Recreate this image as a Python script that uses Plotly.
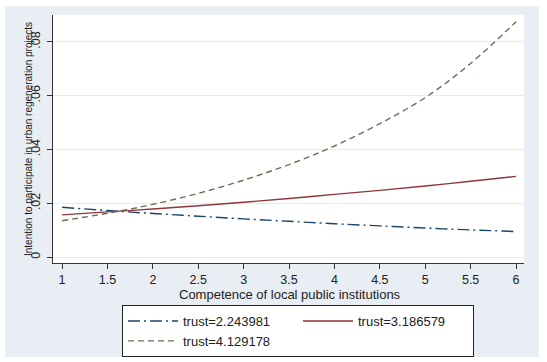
import plotly.graph_objects as go

competence = [1, 1.5, 2, 2.5, 3, 3.5, 4, 4.5, 5, 5.5, 6]
trust_low = [0.0185, 0.0173, 0.0162, 0.0152, 0.0142, 0.0133, 0.0124, 0.0116, 0.0108, 0.0101, 0.0095]
trust_mid = [0.0157, 0.0168, 0.0179, 0.0191, 0.0204, 0.0218, 0.0233, 0.0248, 0.0264, 0.0282, 0.0300]
trust_high = [0.0135, 0.0163, 0.0196, 0.0237, 0.0286, 0.0344, 0.0413, 0.0496, 0.0593, 0.0720, 0.0875]
names = ["trust=2.243981", "trust=3.186579", "trust=4.129178"]
x_ticks = [1, 1.5, 2, 2.5, 3, 3.5, 4, 4.5, 5, 5.5, 6]
x_ticktext = ["1", "1.5", "2", "2.5", "3", "3.5", "4", "4.5", "5", "5.5", "6"]
y_ticks = [0, 0.02, 0.04, 0.06, 0.08]
y_ticktext = ["0", ".02", ".04", ".06", ".08"]
x_title = "Competence of local public institutions"
y_title = "Intention to participate in urban regeneration projects"

FONT = "Liberation Sans, Arial, sans-serif"
W, H = 547, 362
ml, mr, mt, mb = 53, 23, 15, 99
pw, ph = W - ml - mr, H - mt - mb

fig = go.Figure()
fig.add_trace(go.Scatter(x=competence, y=trust_low, mode="lines", name=names[0],
                         line=dict(color="#1a476f", width=1.4, dash="12px,4px,2px,4px"),
                         line_shape="spline"))
fig.add_trace(go.Scatter(x=competence, y=trust_mid, mode="lines", name=names[1],
                         line=dict(color="#90353b", width=1.4), line_shape="spline"))
fig.add_trace(go.Scatter(x=competence, y=trust_high, mode="lines", name=names[2],
                         line=dict(color="#6b6f55", width=1.4, dash="6px,4px"),
                         line_shape="spline"))

def px2paper_x(px):
    return (px - ml) / pw

def px2paper_y(py):
    return 1 - (py - mt) / ph

shapes = [
    dict(type="rect", xref="paper", yref="paper", layer="below",
         x0=px2paper_x(5), x1=px2paper_x(539), y0=px2paper_y(357), y1=px2paper_y(6),
         fillcolor="#e8eef3", line=dict(width=0)),
    dict(type="rect", xref="paper", yref="paper", layer="below",
         x0=0, x1=1, y0=0, y1=1, fillcolor="white", line=dict(width=0)),
]

annotations = [
    dict(text=x_title, xref="paper", yref="paper", x=px2paper_x(290), y=px2paper_y(294),
         xanchor="center", yanchor="middle", showarrow=False,
         font=dict(family=FONT, size=13, color="#222222")),
    dict(text=y_title, xref="paper", yref="paper", x=px2paper_x(28), y=px2paper_y(139),
         xanchor="center", yanchor="middle", showarrow=False, textangle=-90,
         font=dict(family=FONT, size=10, color="#222222")),
]

fig.update_layout(
    width=W, height=H,
    margin=dict(l=ml, r=mr, t=mt, b=mb, autoexpand=False),
    paper_bgcolor="white", plot_bgcolor="white",
    font=dict(family=FONT, color="#222222", size=13),
    shapes=shapes,
    annotations=annotations,
    showlegend=True,
    legend=dict(orientation="h", x=px2paper_x(122), xanchor="left",
                y=px2paper_y(305), yanchor="top",
                bgcolor="white", bordercolor="#222222", borderwidth=1,
                entrywidth=110, entrywidthmode="pixels",
                font=dict(family=FONT, size=13, color="#222222"),
                tracegroupgap=0, itemwidth=50),
    xaxis=dict(range=[0.9, 6.088], tickmode="array", tickvals=x_ticks, ticktext=x_ticktext,
               showgrid=False, zeroline=False, showline=True, linecolor="#333333", linewidth=1,
               ticks="outside", ticklen=5, tickcolor="#333333",
               tickfont=dict(family=FONT, size=12.5, color="#222222")),
    yaxis=dict(range=[-0.0022, 0.0900], tickmode="array", tickvals=y_ticks, ticktext=y_ticktext,
               tickangle=-90, showgrid=True, gridcolor="#e4ecf0", gridwidth=1,
               zeroline=False, showline=True, linecolor="#333333", linewidth=1,
               ticks="outside", ticklen=5, tickcolor="#333333", ticklabelstandoff=2,
               tickfont=dict(family=FONT, size=12.5, color="#222222")),
)

fig.write_html("out.html", config={"displayModeBar": False},
               post_script="document.body.style.margin='0px';")
